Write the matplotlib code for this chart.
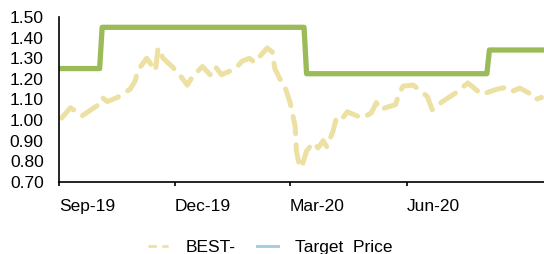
import matplotlib
matplotlib.use('Agg')
import matplotlib.pyplot as plt
import matplotlib.dates as mdates
from matplotlib.lines import Line2D
import pandas as pd

plt.rcParams['font.family'] = ['Liberation Sans', 'DejaVu Sans']

# Share price
price_dates = ['2019-09-03', '2019-09-10', '2019-09-15', '2019-09-19', '2019-10-01',
               '2019-10-05', '2019-10-09', '2019-10-17', '2019-10-27', '2019-10-31',
               '2019-11-02', '2019-11-09', '2019-11-16', '2019-11-18', '2019-11-22',
               '2019-11-29', '2019-12-05', '2019-12-11', '2019-12-15', '2019-12-23',
               '2019-12-29', '2020-01-02', '2020-01-07', '2020-01-18', '2020-01-23',
               '2020-01-29', '2020-02-02', '2020-02-12', '2020-02-16', '2020-02-18',
               '2020-02-22', '2020-02-26', '2020-03-01', '2020-03-05', '2020-03-06',
               '2020-03-08', '2020-03-10', '2020-03-14', '2020-03-19', '2020-03-23',
               '2020-03-27', '2020-03-30', '2020-04-04', '2020-04-06', '2020-04-09',
               '2020-04-15', '2020-04-27', '2020-05-04', '2020-05-08', '2020-05-11',
               '2020-05-15', '2020-05-23', '2020-05-26', '2020-05-29', '2020-06-06',
               '2020-06-17', '2020-06-21', '2020-06-25', '2020-06-29', '2020-07-09',
               '2020-07-15', '2020-07-19', '2020-07-23', '2020-07-30', '2020-08-11',
               '2020-08-19', '2020-08-23', '2020-08-29', '2020-09-07', '2020-09-10',
               '2020-09-15']
price_vals = [1.01, 1.06, 1.04, 1.02, 1.07,
              1.11, 1.09, 1.11, 1.15, 1.19,
              1.24, 1.30, 1.24, 1.35, 1.30,
              1.26, 1.22, 1.17, 1.21, 1.26,
              1.22, 1.26, 1.22, 1.25, 1.285,
              1.30, 1.28, 1.35, 1.33, 1.25,
              1.20, 1.16, 1.085, 0.97, 0.85,
              0.79, 0.77, 0.85, 0.89, 0.865,
              0.90, 0.87, 0.95, 1.00, 0.99,
              1.04, 1.01, 1.035, 1.085, 1.05,
              1.06, 1.075, 1.13, 1.165, 1.17,
              1.115, 1.05, 1.07, 1.09, 1.13,
              1.16, 1.18, 1.16, 1.125, 1.15,
              1.16, 1.14, 1.155, 1.125, 1.10,
              1.11]

# Target price
tp_dates = ['2019-09-01', '2019-10-03', '2019-10-05', '2020-03-12', '2020-03-14',
            '2020-08-03', '2020-08-05', '2020-09-20']
tp_vals = [1.25, 1.25, 1.45, 1.45, 1.225, 1.225, 1.34, 1.34]

xticks = ['2019-09-01', '2019-12-01', '2020-03-01', '2020-06-01']
yticks = [0.70, 0.80, 0.90, 1.00, 1.10, 1.20, 1.30, 1.40, 1.50]

yellow = '#ECE1A3'
green = '#9BBB59'
blue = '#A9CDE0'

fig = plt.figure(figsize=(5.44, 2.54), dpi=100)
ax = fig.add_axes([59 / 544, 1 - 182 / 254, (544 - 59) / 544, (182 - 17) / 254])

ax.plot(pd.to_datetime(price_dates), price_vals, color=yellow, lw=3.6,
        linestyle=(0, (3.5, 2.2)), dash_capstyle='round', solid_joinstyle='round')
ax.plot(pd.to_datetime(tp_dates), tp_vals, color=green, lw=3.8, solid_joinstyle='round')

ax.set_xlim(pd.Timestamp('2019-09-01'), pd.Timestamp('2020-09-17'))
ax.set_ylim(0.70, 1.50)
ax.set_yticks(yticks)
ax.set_yticklabels([f'{v:.2f}' for v in yticks])
ax.set_xticks(pd.to_datetime(xticks))
ax.xaxis.set_major_formatter(mdates.DateFormatter('%b-%y'))
for lab in ax.get_xticklabels():
    lab.set_horizontalalignment('left')

for s in ['top', 'right']:
    ax.spines[s].set_visible(False)
ax.spines['left'].set_linewidth(1.2)
ax.spines['bottom'].set_linewidth(1.2)
ax.tick_params(axis='y', length=0, labelsize=12.5, pad=11)
ax.tick_params(axis='x', length=3, width=1.2, labelsize=12.5, pad=9)

handles = [Line2D([], [], color=yellow, lw=2, linestyle=(0, (3, 2))),
           Line2D([], [], color=blue, lw=2.2)]
fig.legend(handles, ['BEST-', 'Target  Price'], loc='center',
           bbox_to_anchor=(270 / 544, 1 - 247 / 254), ncol=2, frameon=False,
           fontsize=12.5, handlelength=1.2, handletextpad=1.0, columnspacing=1.2)

fig.savefig('out.png', dpi=100)
